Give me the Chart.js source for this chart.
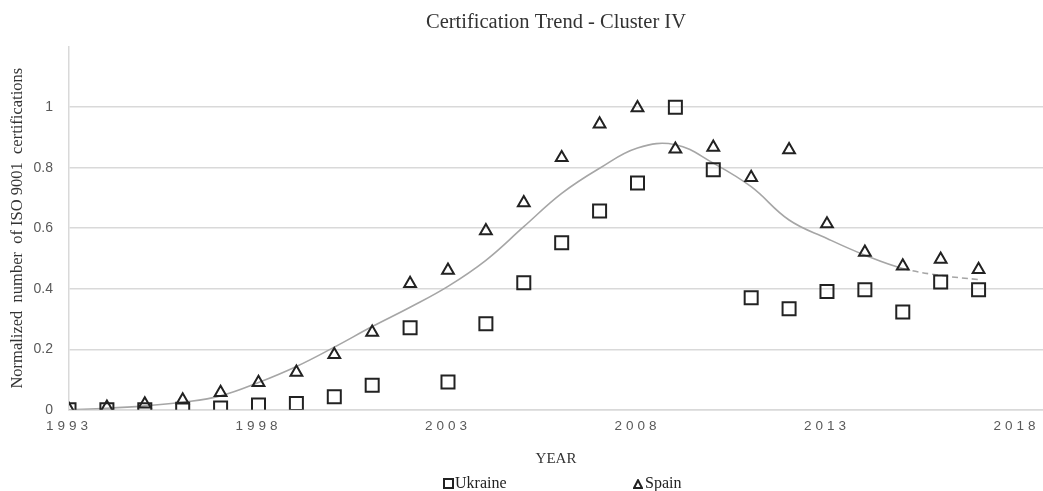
<!DOCTYPE html>
<html>
<head>
<meta charset="utf-8">
<script src="https://cdn.jsdelivr.net/npm/chart.js@4"></script>
<style>
  body { margin: 0; background: #fff; overflow: hidden; }
  #wrap { position: relative; width: 1043px; height: 491px; }
  #legend {
    position: absolute; top: 474px; left: 0; width: 1043px; height: 18px;
    font: 16px "Liberation Serif", serif; color: #222;
  }
  #legend .item { position: absolute; top: 0; line-height: 18px; white-space: nowrap; }
  #legend .sq { display: inline-block; width: 7px; height: 7px; border: 2px solid #222; vertical-align: -1px; margin-right: 1px; }
  #legend svg { vertical-align: -1px; margin-right: 2px; }
</style>
</head>
<body>
<div id="wrap">
  <canvas id="chart" width="1043" height="491"></canvas>
  <div id="legend">
    <span class="item" style="left:443px"><span class="sq"></span>Ukraine</span>
    <span class="item" style="left:633px"><svg width="10" height="10"><polygon points="5,1.2 9,9 1,9" fill="none" stroke="#222" stroke-width="2"/></svg>Spain</span>
  </div>
</div>
<script>
// Dữ liệu
const years = [1993, 1994, 1995, 1996, 1997, 1998, 1999, 2000, 2001, 2002, 2003, 2004, 2005,
               2006, 2007, 2008, 2009, 2010, 2011, 2012, 2013, 2014, 2015, 2016, 2017];
const ukraine = [0, 0, 0, 0.002, 0.006, 0.016, 0.021, 0.043, 0.081, 0.271, 0.092, 0.284, 0.42,
                 0.552, 0.657, 0.749, 1, 0.793, 0.37, 0.334, 0.391, 0.397, 0.323, 0.422, 0.397];
const spain = [0.001, 0.008, 0.019, 0.032, 0.057, 0.09, 0.124, 0.182, 0.256, 0.417, 0.461, 0.591, 0.684,
               0.833, 0.944, 0.998, 0.861, 0.867, 0.767, 0.859, 0.614, 0.52, 0.475, 0.497, 0.463];
const trend = [0, 0.005, 0.013, 0.025, 0.046, 0.09, 0.143, 0.207, 0.275, 0.339, 0.408, 0.494, 0.605,
               0.715, 0.798, 0.865, 0.876, 0.815, 0.737, 0.627, 0.566, 0.511, 0.467, 0.444, 0.43];
const xTicks = [1993, 1998, 2003, 2008, 2013, 2018];
const yTicks = [0, 0.2, 0.4, 0.6, 0.8, 1];

const toXY = (arr) => arr.map((v, i) => ({ x: years[i], y: v }));

// giãn chữ cho nhãn trục X
const spacedTicks = {
  id: 'spacedTicks',
  afterUpdate(chart) {
    const sc = chart.scales.x;
    if (sc._spaced) return;
    const orig = sc.drawLabels.bind(sc);
    sc.drawLabels = function (area) {
      const ctx = this.ctx;
      ctx.save();
      ctx.letterSpacing = '4px';
      orig(area);
      ctx.restore();
    };
    sc._spaced = true;
  }
};

new Chart(document.getElementById('chart'), {
  type: 'line',
  data: {
    datasets: [
      {
        label: 'Ukraine', data: toXY(ukraine), showLine: false,
        pointStyle: 'rect', pointRadius: 9.2, pointBorderWidth: 2,
        pointBorderColor: '#222', pointBackgroundColor: 'rgba(0,0,0,0)', order: 1
      },
      {
        label: 'Spain', data: toXY(spain), showLine: false,
        pointStyle: 'triangle', pointRadius: 6.8, pointBorderWidth: 2,
        pointBorderColor: '#222', pointBackgroundColor: 'rgba(0,0,0,0)', order: 2
      },
      {
        label: 'Trend', data: toXY(trend), pointRadius: 0,
        borderColor: '#a6a6a6', borderWidth: 1.6, tension: 0.4, fill: false, order: 3,
        segment: {
          borderDash: (c) => c.p0.parsed.x >= 2015 ? [6, 4] : undefined
        }
      }
    ]
  },
  options: {
    animation: false,
    responsive: false,
    layout: { autoPadding: false, padding: { left: 0, right: 0, top: 0, bottom: 20 } },
    scales: {
      x: {
        type: 'linear', min: 1993, max: 2018.7,
        afterBuildTicks: (s) => { s.ticks = xTicks.map(v => ({ value: v })); },
        afterFit: (s) => { s.paddingLeft = 0; s.paddingRight = 0; },
        grid: { display: false, drawTicks: false },
        border: { display: true, color: '#d9d9d9', width: 1.5 },
        ticks: {
          color: '#595959', padding: 8,
          font: { family: '"Liberation Sans", sans-serif', size: 13.5 },
          callback: (v) => String(v)
        },
        title: {
          display: true, text: 'YEAR', color: '#333',
          font: { family: '"Liberation Serif", serif', size: 15 },
          padding: { top: 8, bottom: 3 }
        }
      },
      y: {
        min: 0, max: 1.2,
        afterBuildTicks: (s) => { s.ticks = yTicks.concat([1.2]).map(v => ({ value: v })); },
        afterFit: (s) => { s.width = 69; },
        grid: {
          drawTicks: false,
          color: (c) => c.tick && c.tick.value > 1.1 ? 'rgba(0,0,0,0)' : '#d9d9d9',
          lineWidth: 1.5
        },
        border: { display: true, color: '#d9d9d9', width: 1.5 },
        ticks: {
          color: '#595959', padding: 16,
          font: { family: '"Liberation Sans", sans-serif', size: 14 },
          callback: (v) => v > 1.1 ? '' : String(Math.round(v * 10) / 10)
        },
        title: {
          display: true, text: 'Normalized  number  of ISO 9001  certifications', color: '#333',
          font: { family: '"Liberation Serif", serif', size: 16.5 },
          padding: { top: 8, bottom: 5 }
        }
      }
    },
    plugins: {
      legend: { display: false },
      tooltip: { enabled: false },
      title: {
        display: true, fullSize: false, text: 'Certification Trend - Cluster IV', color: '#333',
        font: { family: '"Liberation Serif", serif', size: 20.5, weight: 'normal' },
        padding: { top: 10, bottom: 12 }
      }
    }
  },
  plugins: [spacedTicks]
});
</script>
</body>
</html>
